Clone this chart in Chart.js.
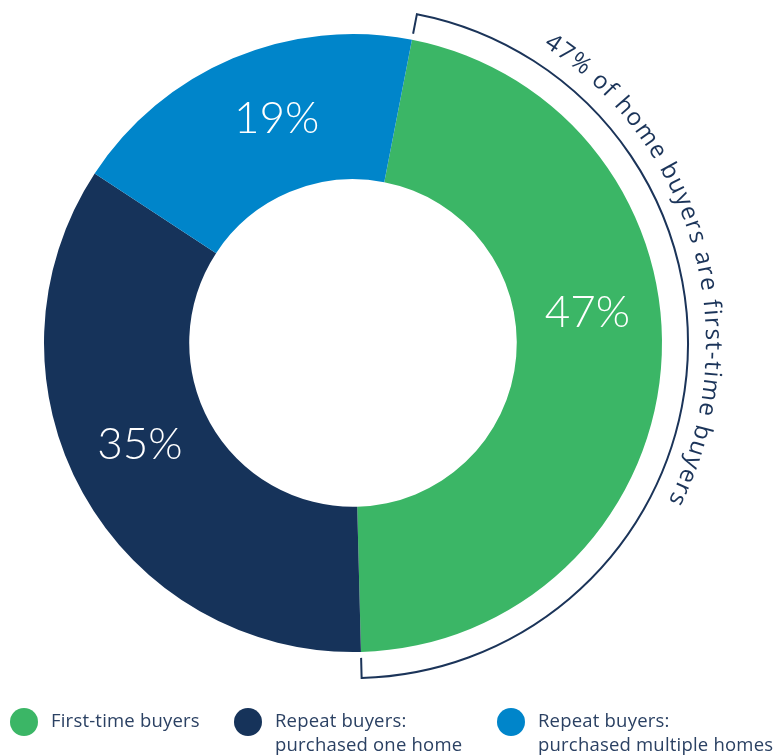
<!DOCTYPE html>
<html>
<head>
<meta charset="utf-8">
<script src="https://cdn.jsdelivr.net/npm/chart.js@4"></script>
<style>
  html, body { margin: 0; padding: 0; background: #fff; }
  canvas { display: block; }
</style>
</head>
<body>
<canvas id="buyers-chart" width="784" height="756"></canvas>
<script>
// share of home buyers (%)
const buyerLabels = ["First-time buyers", "Repeat buyers:\npurchased one home", "Repeat buyers:\npurchased multiple homes"];
const buyerShares = [47, 35, 19];
const calloutText = "47% of home buyers are first-time buyers";

const sliceColors = ["#3bb666", "#16335a", "#0085ca"];
const navy = "#1b3459";

// draws the white % labels inside each slice
const sliceLabels = {
  id: 'sliceLabels',
  afterDatasetsDraw(chart, args, opts) {
    const {ctx} = chart;
    const arcs = chart.getDatasetMeta(0).data;
    ctx.save();
    ctx.fillStyle = '#fff';
    ctx.font = opts.font;
    ctx.textAlign = 'center';
    ctx.textBaseline = 'middle';
    arcs.forEach((arc, i) => {
      const p = arc.getProps(['x', 'y', 'startAngle', 'endAngle', 'innerRadius', 'outerRadius'], true);
      const mid = (p.startAngle + p.endAngle) / 2 + (opts.nudge[i] || 0) * Math.PI / 180;
      const r = (p.innerRadius + p.outerRadius) / 2;
      ctx.fillText(buyerShares[i] + '%', p.x + Math.cos(mid) * r, p.y + Math.sin(mid) * r);
    });
    ctx.restore();
  }
};

// bracket round the first-time slice plus curved caption
const callout = {
  id: 'callout',
  afterDatasetsDraw(chart, args, opts) {
    const {ctx} = chart;
    const p = chart.getDatasetMeta(0).data[0].getProps(['x', 'y', 'startAngle', 'endAngle', 'outerRadius'], true);
    const rIn = p.outerRadius + opts.tickFrom, rOut = p.outerRadius + opts.tickTo;
    ctx.save();
    ctx.strokeStyle = navy;
    ctx.lineWidth = 2;
    ctx.beginPath();
    ctx.moveTo(p.x + Math.cos(p.startAngle) * rIn, p.y + Math.sin(p.startAngle) * rIn);
    ctx.arc(p.x, p.y, rOut, p.startAngle, p.endAngle);
    ctx.lineTo(p.x + Math.cos(p.endAngle) * rIn, p.y + Math.sin(p.endAngle) * rIn);
    ctx.stroke();

    // text along the arc, reading clockwise
    ctx.font = opts.font;
    ctx.fillStyle = navy;
    ctx.textAlign = 'center';
    ctx.textBaseline = 'alphabetic';
    const r = p.outerRadius + opts.textGap;
    const chars = calloutText.split('');
    const widths = chars.map(c => ctx.measureText(c).width + opts.spacing);
    const total = widths.reduce((a, b) => a + b, 0);
    const centre = p.startAngle + (p.endAngle - p.startAngle) * opts.at;
    let a = centre - total / r / 2;
    chars.forEach((c, i) => {
      const ang = a + widths[i] / r / 2;
      ctx.save();
      ctx.translate(p.x + Math.cos(ang) * r, p.y + Math.sin(ang) * r);
      ctx.rotate(ang + Math.PI / 2);
      ctx.fillText(c, 0, 0);
      ctx.restore();
      a += widths[i] / r;
    });
    ctx.restore();
  }
};

// legend with two-line labels
const bottomLegend = {
  id: 'bottomLegend',
  afterDraw(chart, args, opts) {
    const {ctx} = chart;
    ctx.save();
    ctx.font = opts.font;
    ctx.letterSpacing = opts.spacing;
    ctx.textBaseline = 'middle';
    buyerLabels.forEach((label, i) => {
      const cx = opts.xs[i];
      ctx.fillStyle = sliceColors[i];
      ctx.beginPath();
      ctx.arc(cx, opts.y, opts.dot, 0, Math.PI * 2);
      ctx.fill();
      ctx.fillStyle = opts.color;
      label.split('\n').forEach((line, j) => {
        ctx.fillText(line, cx + opts.dot + 13, opts.y + j * opts.lineHeight);
      });
    });
    ctx.restore();
  }
};

new Chart("buyers-chart", {
  type: 'doughnut',
  data: {
    labels: buyerLabels,
    datasets: [{
      data: buyerShares,
      backgroundColor: sliceColors,
      borderWidth: 0,
      hoverOffset: 0
    }]
  },
  options: {
    responsive: false,
    animation: false,
    rotation: 11,
    cutout: '53%',
    layout: { padding: { left: 44, right: 122, top: 34, bottom: 104 } },
    plugins: {
      legend: { display: false },
      tooltip: { enabled: false },
      sliceLabels: { font: "300 44px Lato, 'Open Sans', sans-serif", nudge: [-12, 3.5, 4] },
      callout: { tickFrom: 6, tickTo: 26, textGap: 44, font: "24px 'Open Sans', sans-serif", spacing: 1.4, at: 0.38 },
      bottomLegend: { xs: [24, 248, 511], y: 722, dot: 14, lineHeight: 24, font: "18.5px 'Open Sans', sans-serif", spacing: '0.2px', color: "#2b4163" }
    }
  },
  plugins: [sliceLabels, callout, bottomLegend]
});
</script>
</body>
</html>
